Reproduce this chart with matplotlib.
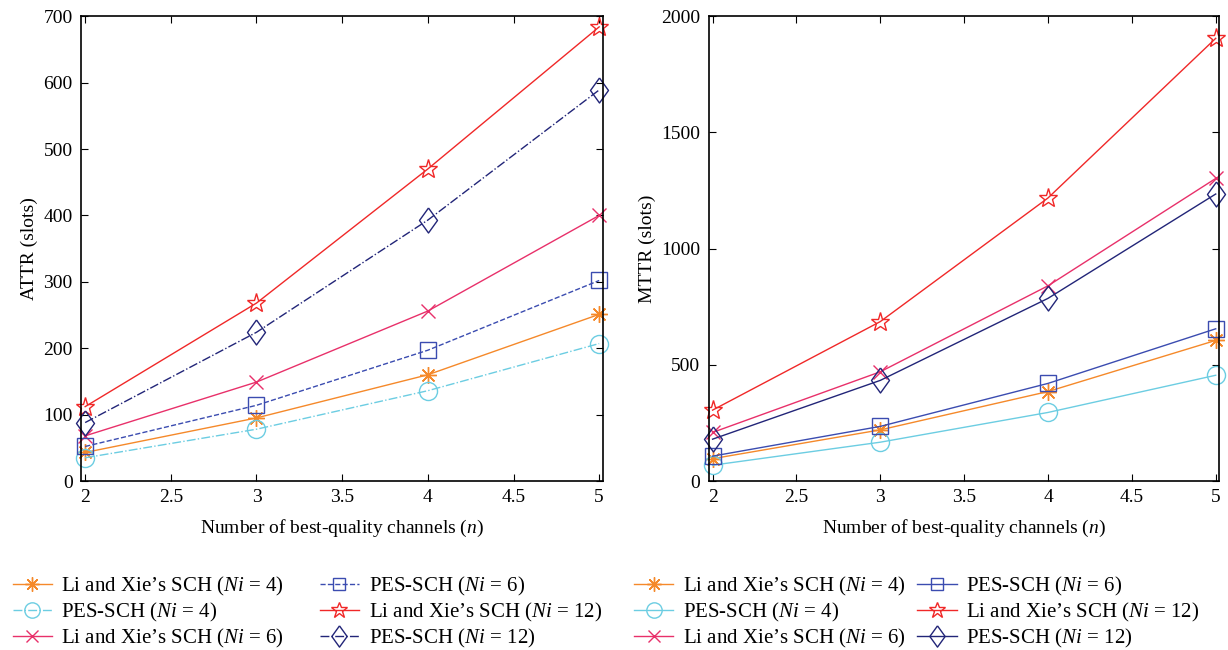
import matplotlib
matplotlib.use("Agg")
import matplotlib.pyplot as plt

plt.rcParams['font.family'] = ['Liberation Serif', 'DejaVu Serif']
plt.rcParams['mathtext.fontset'] = 'custom'
plt.rcParams['mathtext.rm'] = 'Liberation Serif'
plt.rcParams['mathtext.it'] = 'Liberation Serif:italic'

n = [2, 3, 4, 5]
xticks = [2, 2.5, 3, 3.5, 4, 4.5, 5]
xtick_labels = ['2', '2.5', '3', '3.5', '4', '4.5', '5']

# ATTR (left panel)
attr_li4 = [43, 95, 160, 251]
attr_pes4 = [35, 78, 136, 207]
attr_li6 = [68, 149, 256, 400]
attr_pes6 = [52, 114, 197, 302]
attr_li12 = [112, 268, 470, 684]
attr_pes12 = [88, 224, 393, 589]

# MTTR (right panel)
mttr_li4 = [96, 220, 385, 605]
mttr_pes4 = [68, 167, 295, 455]
mttr_li6 = [209, 470, 840, 1302]
mttr_pes6 = [107, 235, 420, 655]
mttr_li12 = [305, 686, 1218, 1905]
mttr_pes12 = [180, 433, 786, 1235]

labels = ["Li and Xie’s SCH ($Ni$ = 4)", "PES-SCH ($Ni$ = 4)",
          "Li and Xie’s SCH ($Ni$ = 6)", "PES-SCH ($Ni$ = 6)",
          "Li and Xie’s SCH ($Ni$ = 12)", "PES-SCH ($Ni$ = 12)"]
colors = ['#f5892a', '#6ccde2', '#e8306a', '#3b4cb0', '#f02828', '#222578']
diamond = [(0, 1), (0.72, 0), (0, -1), (-0.72, 0), (0, 1)]
markers = [(8, 2, 0), 'o', 'x', 's', '*', diamond]
msizes = [12, 13, 10, 11, 14, 18]
left_styles = ['-', '-.', '-', '--', '-', '-.']
right_styles = ['-', '-', '-', '-', '-', '-']

fig = plt.figure(figsize=(12.28, 6.5), dpi=100)
ax1 = fig.add_axes([0.066, 0.26, 0.425, 0.715])
ax2 = fig.add_axes([0.577, 0.26, 0.416, 0.715])

panels = [
    (ax1, [attr_li4, attr_pes4, attr_li6, attr_pes6, attr_li12, attr_pes12],
     left_styles, 'ATTR (slots)', (0, 700), list(range(0, 701, 100))),
    (ax2, [mttr_li4, mttr_pes4, mttr_li6, mttr_pes6, mttr_li12, mttr_pes12],
     right_styles, 'MTTR (slots)', (0, 2000), [0, 500, 1000, 1500, 2000]),
]

for ax, series, styles, ylab, ylim, yticks in panels:
    for vals, lab, c, m, ms, ls in zip(series, labels, colors, markers, msizes, styles):
        ax.plot(n, vals, linestyle=ls, color=c, marker=m, markersize=ms,
                markerfacecolor='none', markeredgecolor=c, markeredgewidth=1.0,
                linewidth=1.0, label=lab, clip_on=False)
    ax.set_xlim(1.976, 5.022)
    ax.set_ylim(*ylim)
    ax.set_xticks(xticks)
    ax.set_xticklabels(xtick_labels)
    ax.set_yticks(yticks)
    ax.tick_params(direction='in', top=True, right=True, length=5,
                   labelsize=14, pad=6)
    ax.set_xlabel('Number of best-quality channels ($n$)', fontsize=14, labelpad=8)
    ax.set_ylabel(ylab, fontsize=14, labelpad=4)
    for s in ax.spines.values():
        s.set_linewidth(1.2)

h1, l1 = ax1.get_legend_handles_labels()
fig.legend(h1, l1, loc='upper left', bbox_to_anchor=(0.0, 0.135), ncol=2,
           frameon=False, fontsize=15, handlelength=1.9, handletextpad=0.45,
           columnspacing=1.7, labelspacing=0.15, borderaxespad=0.2,
           markerscale=0.85)
h2, l2 = ax2.get_legend_handles_labels()
fig.legend(h2, l2, loc='upper left', bbox_to_anchor=(0.506, 0.135), ncol=2,
           frameon=False, fontsize=15, handlelength=1.9, handletextpad=0.45,
           columnspacing=0.55, labelspacing=0.15, borderaxespad=0.2,
           markerscale=0.85)

fig.savefig('out.png', dpi=100)
